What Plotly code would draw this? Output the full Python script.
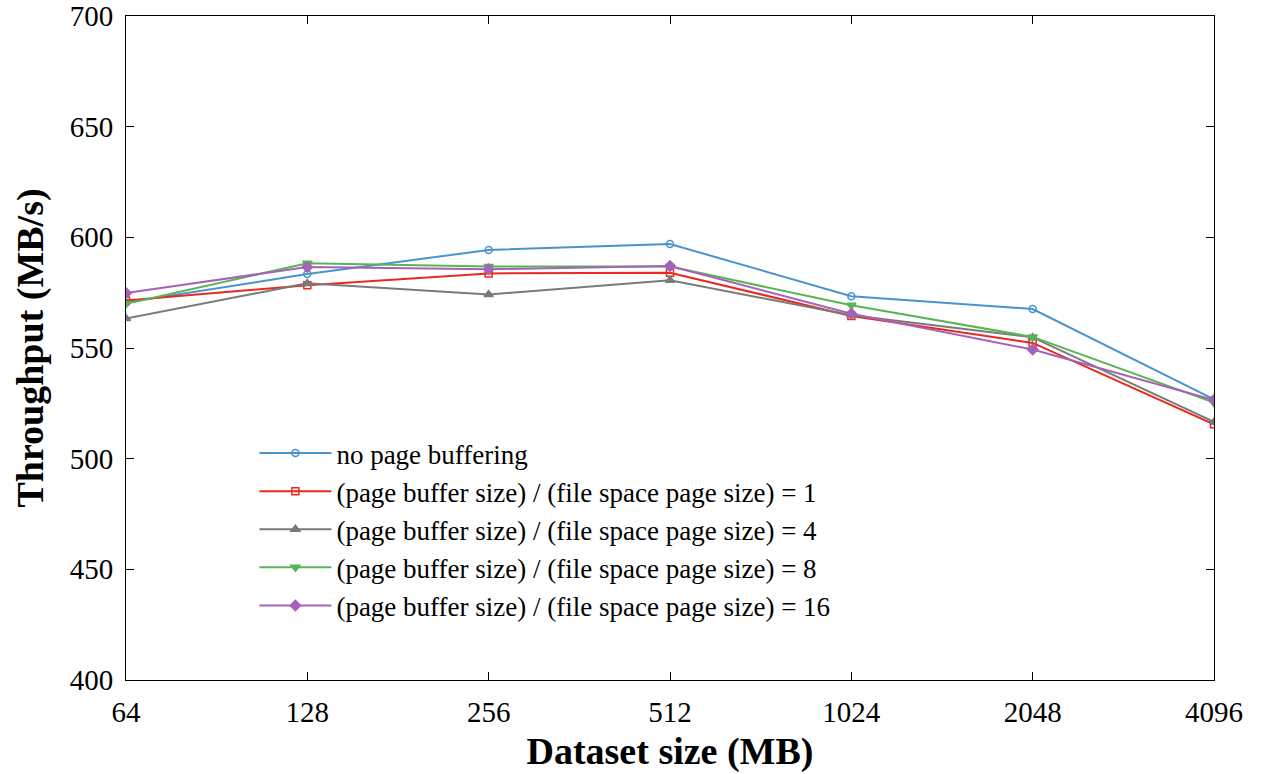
import plotly.graph_objects as go

sizes = [64, 128, 256, 512, 1024, 2048, 4096]
tick_labels = ["64", "128", "256", "512", "1024", "2048", "4096"]

no_buffer = [570.5, 583.4, 594.3, 597.0, 573.4, 567.6, 526.8]
ratio_1 = [571.5, 578.3, 583.7, 584.0, 564.5, 552.3, 515.5]
ratio_4 = [563.3, 579.2, 574.2, 580.6, 564.8, 554.8, 516.6]
ratio_8 = [570.0, 588.3, 586.8, 586.8, 569.3, 555.0, 525.3]
ratio_16 = [574.8, 586.6, 585.6, 587.0, 565.5, 549.3, 526.5]

series = [
    ("no page buffering", no_buffer, "#4a94cc", "circle-open", 7),
    ("(page buffer size) / (file space page size) = 1", ratio_1, "#e8291c", "square-open", 7),
    ("(page buffer size) / (file space page size) = 4", ratio_4, "#7a7a7a", "triangle-up", 8),
    ("(page buffer size) / (file space page size) = 8", ratio_8, "#58b553", "triangle-down", 8),
    ("(page buffer size) / (file space page size) = 16", ratio_16, "#a662b8", "diamond", 8),
]

fig = go.Figure()
for name, vals, color, sym, ms in series:
    fig.add_trace(go.Scatter(
        x=sizes, y=vals, name=name, mode="lines+markers",
        line=dict(color=color, width=2),
        marker=dict(symbol=sym, size=ms, color=color, line=dict(color=color, width=1.5)),
    ))

font_family = "Liberation Serif"
fig.update_layout(
    width=1263, height=774,
    margin=dict(l=126, r=49, t=16, b=94, autoexpand=False),
    plot_bgcolor="white", paper_bgcolor="white",
    font=dict(family=font_family, size=28, color="black"),
    showlegend=True,
    legend=dict(
        x=0.118, y=0.378, xanchor="left", yanchor="top",
        bgcolor="rgba(0,0,0,0)", font=dict(size=27, family=font_family),
        tracegroupgap=0, itemwidth=72,
    ),
    xaxis=dict(
        type="log", range=[1.80618, 3.61236],
        tickvals=sizes, ticktext=tick_labels,
        ticks="inside", ticklen=8, tickcolor="black",
        showline=True, linecolor="black", linewidth=1, mirror="ticks",
        showgrid=False, zeroline=False, ticklabelstandoff=6,
        title=dict(text="<b>Dataset size (MB)</b>", font=dict(size=38, family=font_family), standoff=10),
        tickfont=dict(size=29, family=font_family),
    ),
    yaxis=dict(
        range=[400, 700], tickvals=[400, 450, 500, 550, 600, 650, 700],
        ticks="inside", ticklen=8, tickcolor="black",
        showline=True, linecolor="black", linewidth=1, mirror="ticks",
        showgrid=False, zeroline=False, ticklabelstandoff=6,
        title=dict(text="<b>Throughput (MB/s)</b>", font=dict(size=38, family=font_family), standoff=14),
        tickfont=dict(size=29, family=font_family),
    ),
)

fig.write_html("out.html")
